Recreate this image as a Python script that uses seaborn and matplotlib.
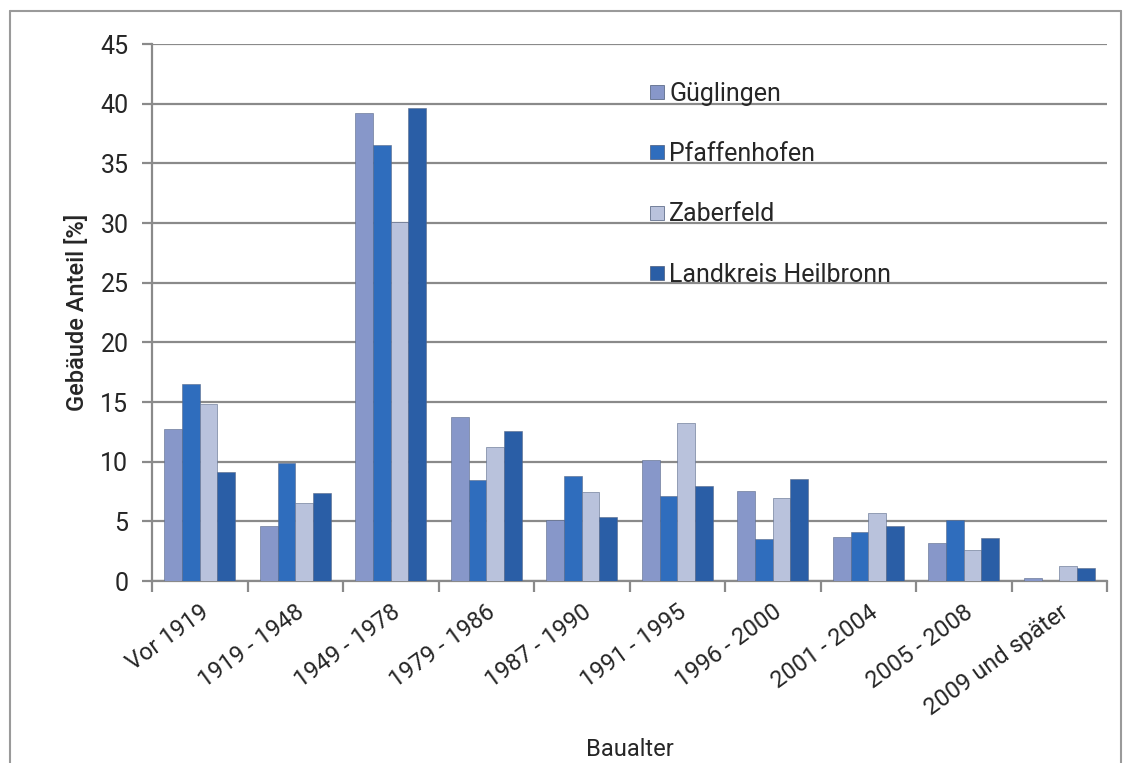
import pandas as pd
import seaborn as sns
import matplotlib
matplotlib.use("Agg")
import matplotlib.pyplot as plt
from matplotlib.lines import Line2D

# Werte
baualter = ["Vor 1919", "1919 - 1948", "1949 - 1978", "1979 - 1986", "1987 - 1990",
            "1991 - 1995", "1996 - 2000", "2001 - 2004", "2005 - 2008", "2009 und später"]
gueglingen = [12.7, 4.6, 39.2, 13.75, 5.15, 10.1, 7.55, 3.65, 3.15, 0.25]
pfaffenhofen = [16.5, 9.85, 36.5, 8.45, 8.8, 7.1, 3.5, 4.15, 5.1, 0.0]
zaberfeld = [14.8, 6.55, 30.1, 11.25, 7.45, 13.25, 6.95, 5.7, 2.6, 1.3]
landkreis = [9.1, 7.4, 39.6, 12.6, 5.4, 7.95, 8.55, 4.6, 3.6, 1.1]
gebiete = ["Güglingen", "Pfaffenhofen", "Zaberfeld", "Landkreis Heilbronn"]
farben = ["#8797c9", "#2f6dbd", "#b9c2dc", "#2a5ea6"]

df = pd.DataFrame({"Baualter": baualter * 4,
                   "Gebiet": sum([[g] * len(baualter) for g in gebiete], []),
                   "Anteil": gueglingen + pfaffenhofen + zaberfeld + landkreis})

sns.set_style("white")
plt.rcParams["font.family"] = ["Roboto", "DejaVu Sans"]

fig = plt.figure(figsize=(11.31, 7.63), dpi=100)
ax = fig.add_axes([0.1344, 0.2385, 0.8444, 0.7038])

sns.barplot(data=df, x="Baualter", y="Anteil", hue="Gebiet", palette=farben,
            width=0.74, gap=0, saturation=1, edgecolor="#5a6a8a", linewidth=0.4,
            ax=ax, zorder=3)

ax.set_ylim(0, 45)
ax.set_yticks(range(0, 46, 5))
ax.set_xlim(-0.5, len(baualter) - 0.5)
ax.yaxis.grid(True, color="#8a8a8a", linewidth=1.6, zorder=0)
ax.set_axisbelow(True)
for s in ["top", "right"]:
    ax.spines[s].set_visible(False)
for s in ["left", "bottom"]:
    ax.spines[s].set_color("#8a8a8a")
    ax.spines[s].set_linewidth(1.6)

ax.tick_params(axis="y", which="major", length=7, width=1.6, color="#8a8a8a",
               labelsize=18, pad=10, left=True)
ax.set_xticks([i - 0.5 for i in range(len(baualter) + 1)], minor=True)
ax.tick_params(axis="x", which="minor", length=8, width=1.6, color="#8a8a8a", bottom=True)
ax.tick_params(axis="x", which="major", length=0, labelsize=17, pad=14)
plt.setp(ax.get_xticklabels(), rotation=36, ha="right", rotation_mode="anchor")

ax.set_xlabel("Baualter", fontsize=17)
ax.set_ylabel("Gebäude Anteil [%]", fontsize=17, fontweight="medium")
ax.xaxis.set_label_coords(0.5, -0.292)
ax.yaxis.set_label_coords(-0.066, 0.5)

handles = [Line2D([], [], marker="s", linestyle="", markersize=10.5, markerfacecolor=c,
                  markeredgecolor="#4a5a7a", markeredgewidth=0.5) for c in farben]
ax.legend(handles, gebiete, loc="upper left", bbox_to_anchor=(0.509, 0.948),
          frameon=False, fontsize=18, handlelength=0.7, handletextpad=0.15,
          labelspacing=1.45, borderaxespad=0)

# grauer Rahmen um die Grafik
for xs, ys in [([0.009, 0.009], [0.0, 0.985]), ([0.009, 0.991], [0.985, 0.985]),
               ([0.991, 0.991], [0.985, 0.0])]:
    fig.add_artist(Line2D(xs, ys, color="#9a9a9a", linewidth=1.5, transform=fig.transFigure))

plt.savefig("out.png", dpi=100)
